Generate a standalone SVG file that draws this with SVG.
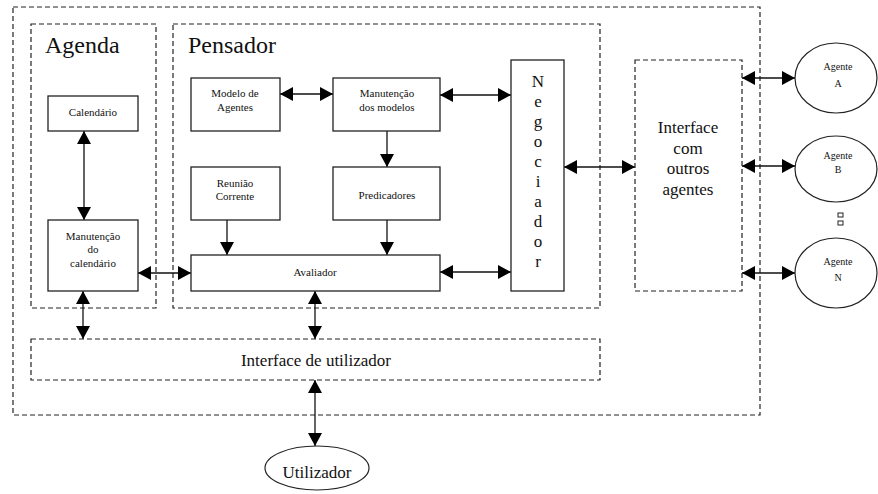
<svg xmlns="http://www.w3.org/2000/svg" width="878" height="494" viewBox="0 0 878 494" font-family="'Liberation Serif', 'Times New Roman', serif">
  <style>
    .dash { fill: none; stroke: #222; stroke-width: 1.2; stroke-dasharray: 5 3; }
    .box { fill: #fff; stroke: #222; stroke-width: 1.3; }
    .ell { fill: #fff; stroke: #222; stroke-width: 1.2; }
    text { font-family: 'Liberation Serif', 'Times New Roman', serif; fill: #111; text-anchor: middle; }
    .s { font-size: 11px; }
    .m { font-size: 17px; }
    .l { font-size: 24px; text-anchor: start; }
    .xs { font-size: 10px; }
    .c { fill: none; stroke: #111; stroke-width: 1.3; }
    .bi { marker-start: url(#ah); marker-end: url(#ah); }
    .one { marker-end: url(#ah); }
  </style>
  <defs>
    <marker id="ah" markerUnits="userSpaceOnUse" markerWidth="13" markerHeight="14" refX="13" refY="7" orient="auto-start-reverse">
      <path d="M0,0 L13,7 L0,14 z" fill="#000"/>
    </marker>
  </defs>

  <rect width="878" height="494" fill="#fff"/>

  <!-- containers -->
  <g id="system">
    <rect class="dash" x="13" y="7" width="747" height="408"/>
  </g>
  <g id="agenda">
    <rect class="dash" x="31" y="24" width="125" height="284"/>
    <text class="l" x="45" y="53">Agenda</text>
  </g>
  <g id="pensador">
    <rect class="dash" x="173" y="24" width="427" height="284"/>
    <text class="l" x="188" y="53">Pensador</text>
  </g>

  <!-- connectors -->
  <g id="connectors">
    <line class="c bi" x1="84" y1="131" x2="84" y2="220"/>
    <line class="c bi" x1="138" y1="273" x2="191" y2="273"/>
    <line class="c bi" x1="83" y1="291" x2="83" y2="339"/>
    <line class="c bi" x1="280" y1="94" x2="333" y2="94"/>
    <line class="c bi" x1="440" y1="95" x2="511" y2="95"/>
    <line class="c one" x1="387" y1="131" x2="387" y2="167"/>
    <line class="c one" x1="227" y1="220" x2="227" y2="255"/>
    <line class="c one" x1="387" y1="220" x2="387" y2="255"/>
    <line class="c bi" x1="440" y1="272" x2="511" y2="272"/>
    <line class="c bi" x1="315" y1="291" x2="315" y2="339"/>
    <line class="c bi" x1="564" y1="167" x2="635" y2="167"/>
    <line class="c bi" x1="742" y1="78" x2="795" y2="78"/>
    <line class="c bi" x1="742" y1="166" x2="795" y2="166"/>
    <line class="c bi" x1="742" y1="273" x2="795" y2="273"/>
    <line class="c bi" x1="315" y1="380" x2="315" y2="446"/>
  </g>

  <!-- Agenda nodes -->
  <g id="calendario">
    <rect class="box" x="48" y="96" width="90" height="35"/>
    <text class="s" x="93" y="116">Calendário</text>
  </g>
  <g id="manutencao-calendario">
    <rect class="box" x="48" y="220" width="90" height="71"/>
    <text class="s" x="93" y="240">Manutenção</text>
    <text class="s" x="93" y="253">do</text>
    <text class="s" x="93" y="267">calendário</text>
  </g>

  <!-- Pensador nodes -->
  <g id="modelo-agentes">
    <rect class="box" x="191" y="78" width="89" height="53"/>
    <text class="s" x="235" y="97">Modelo de</text>
    <text class="s" x="235" y="111">Agentes</text>
  </g>
  <g id="manutencao-modelos">
    <rect class="box" x="333" y="78" width="107" height="53"/>
    <text class="s" x="387" y="97">Manutenção</text>
    <text class="s" x="387" y="111">dos modelos</text>
  </g>
  <g id="reuniao-corrente">
    <rect class="box" x="191" y="167" width="89" height="53"/>
    <text class="s" x="235" y="187">Reunião</text>
    <text class="s" x="235" y="200">Corrente</text>
  </g>
  <g id="predicadores">
    <rect class="box" x="333" y="167" width="107" height="53"/>
    <text class="s" x="387" y="199">Predicadores</text>
  </g>
  <g id="avaliador">
    <rect class="box" x="191" y="255" width="249" height="36"/>
    <text class="s" x="315" y="276">Avaliador</text>
  </g>
  <g id="negociador">
    <rect class="box" x="511" y="60" width="53" height="231"/>
    <text class="m" x="538" y="87">N<tspan x="538" dy="20">e</tspan><tspan x="538" dy="20">g</tspan><tspan x="538" dy="20">o</tspan><tspan x="538" dy="20">c</tspan><tspan x="538" dy="20">i</tspan><tspan x="538" dy="20">a</tspan><tspan x="538" dy="20">d</tspan><tspan x="538" dy="20">o</tspan><tspan x="538" dy="20">r</tspan></text>
  </g>

  <!-- interfaces -->
  <g id="interface-agentes">
    <rect class="dash" x="635" y="60" width="107" height="231"/>
    <text class="m" x="688" y="133">Interface</text>
    <text class="m" x="688" y="154">com</text>
    <text class="m" x="688" y="174">outros</text>
    <text class="m" x="688" y="195">agentes</text>
  </g>
  <g id="interface-utilizador">
    <rect class="dash" x="31" y="339" width="569" height="41"/>
    <text class="m" x="316" y="366">Interface de utilizador</text>
  </g>

  <!-- external agents -->
  <g id="agente-a">
    <ellipse class="ell" cx="836" cy="78" rx="41" ry="35"/>
    <text class="xs" x="838" y="70">Agente</text>
    <text class="xs" x="838" y="87">A</text>
  </g>
  <g id="agente-b">
    <ellipse class="ell" cx="836" cy="169" rx="41" ry="33"/>
    <text class="xs" x="838" y="159">Agente</text>
    <text class="xs" x="838" y="173">B</text>
  </g>
  <g id="reticencias">
    <rect x="838" y="213" width="5" height="4" fill="none" stroke="#222" stroke-width="1"/>
    <rect x="838" y="221" width="5" height="4" fill="none" stroke="#222" stroke-width="1"/>
  </g>
  <g id="agente-n">
    <ellipse class="ell" cx="836" cy="273" rx="41" ry="35"/>
    <text class="xs" x="838" y="265">Agente</text>
    <text class="xs" x="838" y="281">N</text>
  </g>

  <!-- user -->
  <g id="utilizador">
    <ellipse class="ell" cx="317" cy="468" rx="52" ry="22"/>
    <text class="m" x="317" y="478">Utilizador</text>
  </g>
</svg>
